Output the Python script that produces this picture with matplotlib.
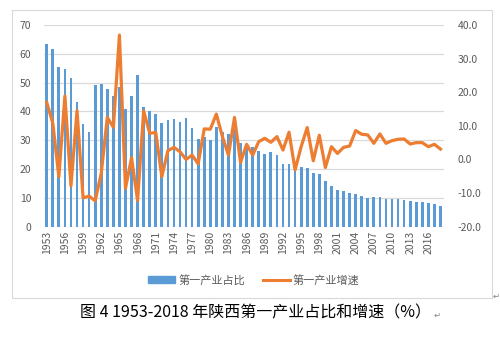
import numpy as np
import matplotlib
matplotlib.use("Agg")
import matplotlib.pyplot as plt
from matplotlib.patches import Rectangle

plt.rcParams['font.family'] = ['Noto Sans CJK SC', 'DejaVu Sans']

years = list(range(1953, 2019))
share = [63.3, 61.6, 55.4, 54.8, 51.5, 43.3, 35.8, 32.9, 49.2, 49.5, 47.7, 45.4,
         48.5, 40.8, 45.5, 52.7, 41.5, 40.3, 39.1, 35.9, 37.0, 37.3, 36.4, 37.6,
         34.2, 30.5, 31.0, 30.0, 34.6, 33.0, 32.2, 33.9, 29.2, 28.0, 27.6, 26.2,
         25.2, 25.9, 24.8, 21.8, 21.8, 20.6, 20.8, 20.4, 18.6, 18.2, 15.8, 14.2,
         12.9, 12.4, 11.6, 11.5, 10.8, 9.8, 10.2, 10.2, 9.5, 9.5, 9.5, 9.3,
         8.9, 8.6, 8.6, 8.3, 7.8, 7.3]
growth = [17.0, 10.8, -5.1, 18.9, -7.9, 14.5, -11.4, -10.9, -12.3, -4.1, 12.5, 9.6,
          37.0, -8.6, 0.5, -12.2, 14.4, 7.8, 8.0, -5.1, 2.6, 3.6, 2.3, 0.0,
          1.3, -1.3, 9.1, 9.0, 13.5, 6.8, 1.3, 12.5, -0.9, 4.5, 1.3, 5.3,
          6.3, 5.1, 6.8, 2.8, 8.1, -3.1, 3.8, 9.5, -0.4, 7.2, -2.4, 3.8,
          1.8, 3.6, 4.0, 8.6, 7.5, 7.3, 4.8, 7.6, 4.8, 5.6, 6.0, 6.1,
          4.6, 5.0, 5.0, 3.8, 4.5, 3.1]
share_label = '第一产业占比'
growth_label = '第一产业增速'
caption = '图 4 1953-2018 年陕西第一产业占比和增速（%）'

blue = '#5B9BD5'
orange = '#ED7D31'
gray_text = '#595959'
grid_col = '#D9D9D9'

fig = plt.figure(figsize=(5.0, 3.37), dpi=100)
ax = fig.add_axes([0.0874, 0.3273, 0.7996, 0.5985])
ax2 = ax.twinx()

x = np.arange(len(years))
ax.bar(x, share, width=0.45, color=blue, zorder=2)
ax2.plot(x, growth, color=orange, linewidth=2.3, solid_joinstyle='round', zorder=3)

ax.set_xlim(-0.5, len(years) - 0.5)
ax.set_ylim(0, 70)
ax.set_yticks(range(0, 71, 10))
ax2.set_ylim(-20, 40)
ax2.set_yticks(range(-20, 41, 10))
ax2.set_yticklabels([f'{v:.1f}' for v in range(-20, 41, 10)])

ax.set_xticks(x[::3])
ax.set_xticklabels([str(y) for y in years[::3]], rotation=90)

ax.grid(axis='y', color=grid_col, linewidth=0.9, zorder=0)
ax.set_axisbelow(True)
for a in (ax, ax2):
    for s in a.spines.values():
        s.set_visible(False)
    a.tick_params(length=0, labelsize=7.5, labelcolor=gray_text)
ax.tick_params(axis='y', pad=9)
ax2.tick_params(axis='y', pad=10)
ax.tick_params(axis='x', pad=3)
ax.set_zorder(ax2.get_zorder() - 1)
ax.patch.set_visible(False)

# chart frame
fig.patches.append(Rectangle((12 / 500, 1 - 298 / 337), 480 / 500, 288 / 337,
                             transform=fig.transFigure, fill=False,
                             edgecolor=grid_col, linewidth=0.8))

h1 = Rectangle((0, 0), 1, 1, color=blue)
h2 = plt.Line2D([0], [0], color=orange, linewidth=2.2)
fig.legend([h1, h2], [share_label, growth_label], loc='center',
           bbox_to_anchor=(0.508, 0.169), ncol=2, frameon=False,
           fontsize=8, labelcolor=gray_text, handlelength=2.4, handleheight=0.5,
           columnspacing=1.6, handletextpad=0.3)

fig.text(0.50 + 5 / 500, 1 - 313 / 337, caption, ha='center', va='center',
         fontsize=11.5, color='black')
fig.text(434 / 500, 1 - 315 / 337, '↵', ha='left', va='center', fontsize=6,
         color='#808080', family=['DejaVu Sans'])
fig.text(493 / 500, 1 - 296 / 337, '↵', ha='left', va='center', fontsize=6,
         color='#808080', family=['DejaVu Sans'])

fig.savefig('out.png', dpi=100)
